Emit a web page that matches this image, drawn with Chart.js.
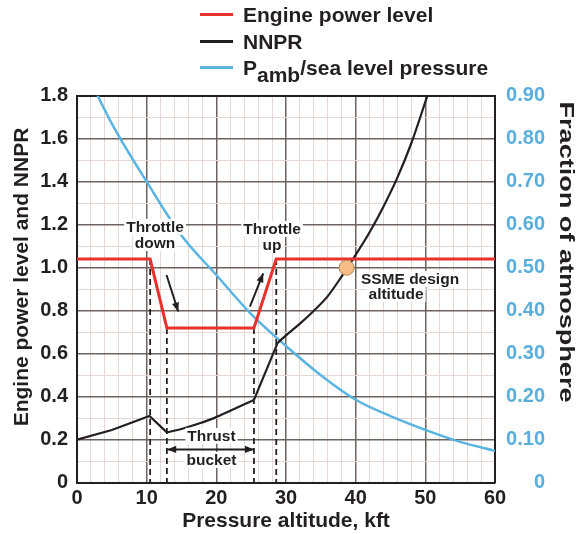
<!DOCTYPE html>
<html>
<head>
<meta charset="UTF-8">
<title>SSME thrust bucket</title>
<script src="https://cdn.jsdelivr.net/npm/chart.js"></script>
<style>
  body { margin: 0; background: #fff; font-family: 'Liberation Sans', Arial, sans-serif; }
  .wrap { position: relative; width: 578px; height: 534px; }
  .legend { position: absolute; left: 200px; top: 2px; font-weight: bold; font-size: 21px; color: #231f20; }
  .legend .row { position: relative; height: 26.5px; line-height: 26px; padding-left: 43px; white-space: nowrap; }
  .legend .swatch { position: absolute; left: 0; top: 11px; width: 33px; height: 3px; }
  .legend sub { font-size: 21px; vertical-align: -7px; line-height: 0; }
</style>
</head>
<body>
<div class="wrap">
  <canvas id="chart" width="578" height="534"></canvas>
  <div class="legend">
    <div class="row"><span class="swatch" style="background:#e8312b"></span>Engine power level</div>
    <div class="row"><span class="swatch" style="background:#231f20"></span>NNPR</div>
    <div class="row"><span class="swatch" style="background:#5ab4e2"></span>P<sub>amb</sub>/sea level pressure</div>
  </div>
</div>
<script>
  // Engine power level (left axis)
  const powerAlt = [0, 10.5, 12.9, 25.4, 28.6, 60];
  const powerLevel = [1.04, 1.04, 0.72, 0.72, 1.04, 1.04];

  // NNPR (left axis)
  const nnprAlt = [0, 5, 10.4, 12.9, 15, 17.5, 20, 22, 25.4, 28.8, 30, 32, 34, 36, 38, 40, 42, 44, 46, 48, 50.3];
  const nnpr = [0.2, 0.245, 0.31, 0.234, 0.25, 0.275, 0.305, 0.335, 0.385, 0.65, 0.685, 0.74, 0.80, 0.868, 0.96, 1.06, 1.165, 1.285, 1.42, 1.58, 1.8];
  // pieces of the NNPR trace: [first index, last index, smooth?]
  const nnprPieces = [[0, 3, false], [3, 8, true], [8, 9, false], [9, 20, true]];

  // Pamb / sea level pressure (right axis)
  const pressAlt = [0, 5, 10, 15, 20, 25, 30, 35, 40, 45, 50, 55, 60];
  const pressFrac = [1.0, 0.835, 0.70, 0.575, 0.483, 0.392, 0.318, 0.25, 0.193, 0.155, 0.123, 0.095, 0.074];

  // throttle points (dashed drop lines) and design altitude
  const stepAlt = [10.5, 12.9, 25.4, 28.6];
  const stepLevel = [1.04, 0.72, 0.72, 1.04];
  const designAlt = [38.7];
  const designNnpr = [1.0];

  const INK = '#231f20';
  const RED = '#e8312b';
  const BLUE = '#5ab4e2';
  const BLUE_TXT = '#5aaedc';
  const GRID_DARK = '#6c625e';
  const GRID_LIGHT = '#e4d7d4';
  const FONT = "'Liberation Sans', Arial, sans-serif";

  Chart.defaults.font.family = FONT;

  const pts = (xs, ys) => xs.map((v, i) => ({ x: v, y: ys[i] }));

  // annotation texts and arrows, in data units
  const notes = [
    { text: 'Throttle', x: 11.2, y: 1.19 },
    { text: 'down', x: 11.2, y: 1.115 },
    { text: 'Throttle', x: 28.0, y: 1.18 },
    { text: 'up', x: 28.0, y: 1.105 },
    { text: 'SSME design', x: 47.8, y: 0.947 },
    { text: 'altitude', x: 45.8, y: 0.878 },
    { text: 'Thrust', x: 19.3, y: 0.218 },
    { text: 'bucket', x: 19.3, y: 0.106 }
  ];
  const arrows = [
    { from: [12.85, 0.966], to: [14.53, 0.796], both: false },
    { from: [24.82, 0.819], to: [26.73, 0.974], both: false },
    { from: [12.95, 0.155], to: [25.4, 0.155], both: true }
  ];

  function arrowHead(ctx, x0, y0, x1, y1) {
    const a = Math.atan2(y1 - y0, x1 - x0);
    const len = 9, half = 3.6;
    ctx.beginPath();
    ctx.moveTo(x1, y1);
    ctx.lineTo(x1 - len * Math.cos(a) + half * Math.sin(a), y1 - len * Math.sin(a) - half * Math.cos(a));
    ctx.lineTo(x1 - len * Math.cos(a) - half * Math.sin(a), y1 - len * Math.sin(a) + half * Math.cos(a));
    ctx.closePath();
    ctx.fill();
  }

  const notesPlugin = {
    id: 'notes',
    afterDatasetsDraw(chart) {
      const { ctx, scales: { x, y } } = chart;
      ctx.save();
      ctx.strokeStyle = INK;
      ctx.fillStyle = INK;
      ctx.lineWidth = 2;
      arrows.forEach(a => {
        const x0 = x.getPixelForValue(a.from[0]), y0 = y.getPixelForValue(a.from[1]);
        const x1 = x.getPixelForValue(a.to[0]), y1 = y.getPixelForValue(a.to[1]);
        ctx.beginPath();
        ctx.moveTo(x0, y0);
        ctx.lineTo(x1, y1);
        ctx.stroke();
        arrowHead(ctx, x0, y0, x1, y1);
        if (a.both) arrowHead(ctx, x1, y1, x0, y0);
      });
      ctx.font = 'bold 15.5px ' + FONT;
      ctx.textAlign = 'center';
      ctx.textBaseline = 'middle';
      notes.forEach(n => {
        const px = x.getPixelForValue(n.x), py = y.getPixelForValue(n.y);
        const w = ctx.measureText(n.text).width;
        ctx.fillStyle = '#fff';
        ctx.fillRect(px - w / 2 - 2, py - 8, w + 4, 16);
        ctx.fillStyle = INK;
        ctx.fillText(n.text, px, py + 1);
      });
      ctx.restore();
    },
    // vertical axis titles, placed where the original has them
    afterDraw(chart) {
      const { ctx } = chart;
      ctx.save();
      ctx.fillStyle = INK;
      ctx.textAlign = 'center';
      ctx.textBaseline = 'middle';
      ctx.font = 'bold 21px ' + FONT;
      ctx.translate(22.5, 277);
      ctx.rotate(-Math.PI / 2);
      ctx.fillText('Engine power level and NNPR', 0, 0);
      ctx.restore();

      ctx.save();
      ctx.fillStyle = INK;
      ctx.textAlign = 'center';
      ctx.textBaseline = 'middle';
      ctx.font = 'bold 20px ' + FONT;
      const label = 'Fraction of atmosphere';
      const w = ctx.measureText(label).width;
      ctx.translate(566, 252);
      ctx.rotate(Math.PI / 2);
      ctx.scale(301 / w, 1);
      ctx.fillText(label, 0, 0);
      ctx.restore();
    }
  };

  const isMajorY = v => Math.round(v * 10) % 2 === 0;

  const nnprSets = nnprPieces.map(([a, b, smooth], i) => ({
    label: i === 0 ? 'NNPR' : 'NNPR ' + i,
    data: pts(nnprAlt.slice(a, b + 1), nnpr.slice(a, b + 1)),
    borderColor: INK,
    borderWidth: 2.2,
    pointRadius: 0,
    tension: 0,
    cubicInterpolationMode: smooth ? 'monotone' : 'default',
    yAxisID: 'y'
  }));

  new Chart(document.getElementById('chart'), {
    type: 'line',
    data: {
      datasets: [
        {
          label: 'SSME design altitude',
          data: pts(designAlt, designNnpr),
          showLine: false,
          pointRadius: 7.5,
          pointBackgroundColor: '#f8bd86',
          pointBorderColor: '#b8844f',
          pointBorderWidth: 1,
          yAxisID: 'y'
        },
        {
          label: 'Engine power level',
          data: pts(powerAlt, powerLevel),
          borderColor: RED,
          borderWidth: 3,
          pointRadius: 0,
          tension: 0,
          yAxisID: 'y'
        },
        ...nnprSets,
        {
          label: 'Pamb/sea level pressure',
          data: pts(pressAlt, pressFrac),
          borderColor: BLUE,
          borderWidth: 2.5,
          pointRadius: 0,
          cubicInterpolationMode: 'monotone',
          yAxisID: 'y1'
        },
        ...stepAlt.map((a, i) => ({
          label: 'step' + i,
          data: [{ x: a, y: stepLevel[i] }, { x: a, y: 0 }],
          borderColor: INK,
          borderWidth: 1.8,
          borderDash: [6, 4],
          pointRadius: 0,
          yAxisID: 'y'
        }))
      ]
    },
    options: {
      responsive: false,
      animation: false,
      layout: { padding: { top: 95.7, left: 0, right: 33, bottom: 0 } },
      plugins: { legend: { display: false }, tooltip: { enabled: false } },
      scales: {
        x: {
          type: 'linear',
          min: 0,
          max: 60,
          afterFit: s => { s.height = 51.3; },
          ticks: {
            stepSize: 2,
            autoSkip: false,
            maxRotation: 0,
            padding: 4,
            color: INK,
            font: { size: 20, weight: 'bold' },
            callback: v => (v % 10 === 0 ? String(v) : '')
          },
          grid: {
            drawTicks: false,
            color: c => (c.tick && c.tick.value % 10 === 0 ? GRID_DARK : GRID_LIGHT),
            lineWidth: c => (c.tick && c.tick.value % 10 === 0 ? 1.5 : 1)
          },
          border: { color: INK, width: 2 },
          title: {
            display: true,
            text: 'Pressure altitude, kft',
            color: INK,
            font: { size: 21, weight: 'bold' },
            padding: 0
          }
        },
        y: {
          position: 'left',
          min: 0,
          max: 1.8,
          afterFit: s => { s.width = 77; },
          ticks: {
            stepSize: 0.1,
            autoSkip: false,
            padding: 9,
            color: INK,
            font: { size: 20, weight: 'bold' },
            callback: v => {
              const k = Math.round(v * 10);
              if (k % 2 !== 0) return '';
              return k === 0 ? '0' : (k / 10).toFixed(1);
            }
          },
          grid: {
            drawTicks: false,
            color: c => {
              if (!c.tick) return GRID_LIGHT;
              if (Math.round(c.tick.value * 10) === 18) return INK;
              return isMajorY(c.tick.value) ? GRID_DARK : GRID_LIGHT;
            },
            lineWidth: c => {
              if (!c.tick) return 1;
              if (Math.round(c.tick.value * 10) === 18) return 2;
              return isMajorY(c.tick.value) ? 1.5 : 1;
            }
          },
          border: { color: INK, width: 2 },
          title: { display: false }
        },
        y1: {
          position: 'right',
          min: 0,
          max: 0.9,
          afterFit: s => { s.width = 50; },
          ticks: {
            stepSize: 0.1,
            autoSkip: false,
            padding: 10,
            crossAlign: 'far',
            color: BLUE_TXT,
            font: { size: 20, weight: 'bold' },
            callback: v => {
              const k = Math.round(v * 10);
              return k === 0 ? '0' : (k / 10).toFixed(2);
            }
          },
          grid: { drawOnChartArea: false, drawTicks: false },
          border: { color: INK, width: 2 },
          title: { display: false }
        }
      }
    },
    plugins: [notesPlugin]
  });
</script>
</body>
</html>
